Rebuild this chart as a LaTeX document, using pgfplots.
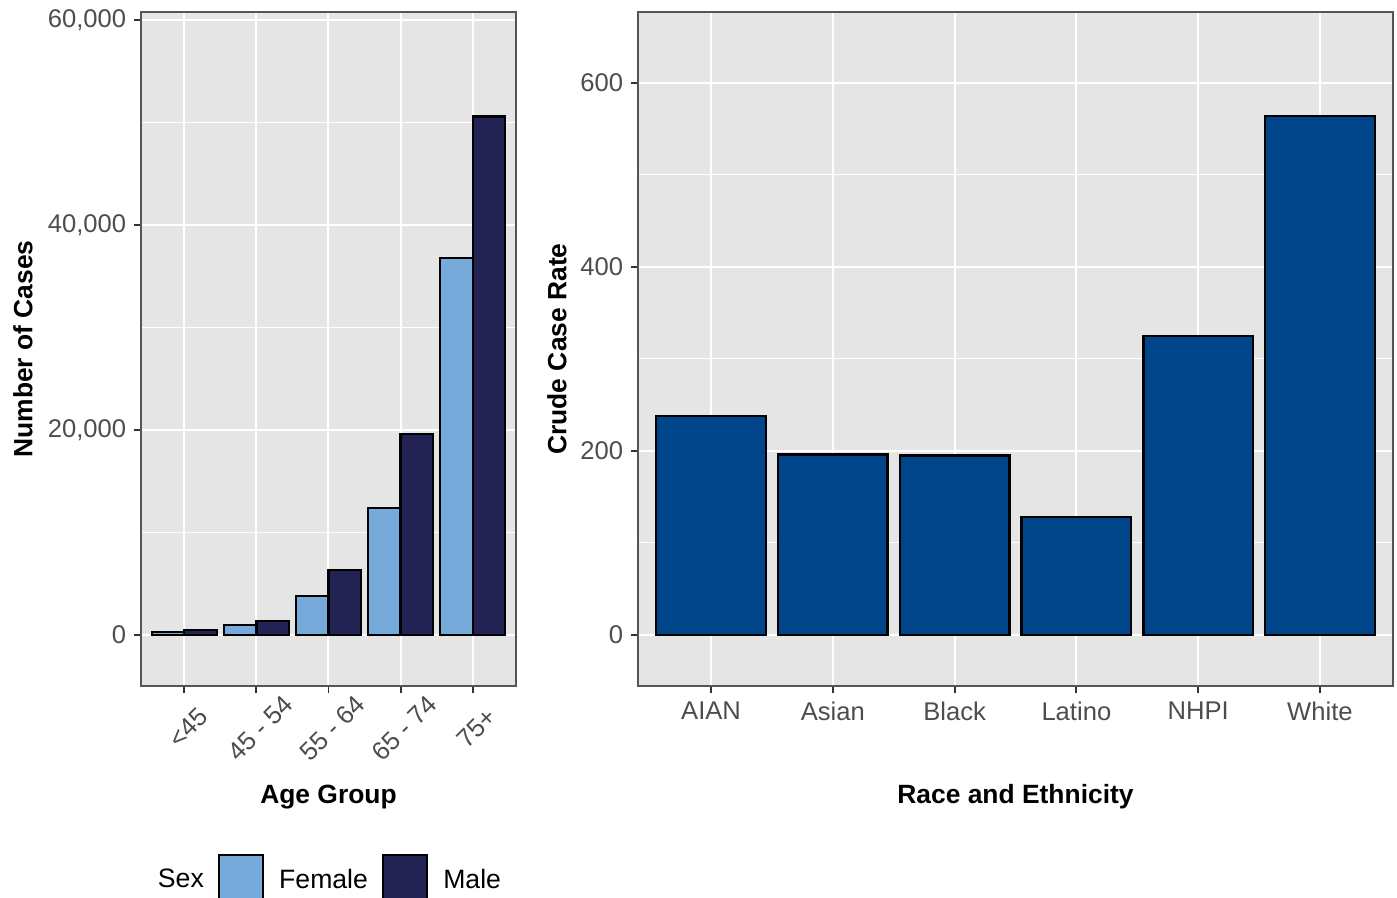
\documentclass[border=0pt]{standalone}
\usepackage{fontspec}
\setmainfont{Liberation Sans}
\usepackage{pgfplots}
\pgfplotsset{compat=1.18}
\definecolor{bg}{HTML}{E5E5E5}
\definecolor{femc}{HTML}{75AADB}
\definecolor{malec}{HTML}{222352}
\definecolor{racec}{HTML}{00448A}
\definecolor{tickc}{HTML}{4D4D4D}
\definecolor{framec}{HTML}{555555}
\pgfplotsset{gg/.style={
  scale only axis,
  axis background/.style={fill=bg},
  axis line style={draw=framec, line width=0.6pt},
  tick align=outside, tick pos=left,
  major tick length=3.7pt, minor tick length=0pt,
  tick style={draw=framec!60!black, line width=0.9pt},
  xmajorgrids, ymajorgrids, yminorgrids,
  major grid style={white, line width=1pt},
  minor grid style={white, line width=0.5pt},
  tick label style={font=\fontsize{12.8}{15}\selectfont, text=tickc, inner sep=0pt},
  label style={font=\bfseries\fontsize{13.2}{16}\selectfont, inner sep=0pt},
  /pgf/number format/assume math mode=true,
  yticklabel style={xshift=-3.5pt},
}}
\begin{document}
\begin{tikzpicture}
\path[use as bounding box] (0,0) rectangle (698.5pt,-449pt);
\begin{axis}[gg, at={(70.5pt,-343pt)}, anchor=south west,
  width=187.5pt, height=337pt,
  xmin=-0.6, xmax=4.6, ymin=-4976, ymax=60780,
  xtick={0,1,2,3,4}, xticklabels={<45, 45 - 54, 55 - 64, 65 - 74, 75+},
  ytick={0,20000,40000,60000}, yticklabels={0,{20,000},{40,000},{60,000}},
  minor ytick={10000,30000,50000},
  xticklabel style={xshift=2pt, yshift=-17.3pt, rotate=45, anchor=center},
  xlabel={Age Group}, ylabel={Number of Cases},
  xlabel style={at={(axis description cs:0.5,-0.1647)}, anchor=center},
  ylabel style={at={(axis description cs:-0.315,0.5)}, anchor=center},
  legend columns=3, legend cell align=left,
  legend style={at={(axis description cs:0.0453,-0.2834)}, anchor=west,
    draw=none, fill=none, inner sep=0pt, outer sep=0pt,
    font=\fontsize{13.3}{15}\selectfont, nodes={inner sep=0pt, yshift=-1.5pt}, column sep=0pt},
]
\addlegendimage{empty legend}
\addplot[ybar, bar width=0.45, bar shift=-0.225, fill=femc, draw=black, line width=1.2pt,
  legend image code/.code={\draw[fill=femc, draw=black, line width=1.2pt] (0pt,-11pt) rectangle (22pt,11pt); \path (-7pt,0pt) (29.5pt,0pt);}]
  coordinates {(0,320) (1,950) (2,3800) (3,12400) (4,36800)};
\addplot[ybar, bar width=0.45, bar shift=0.225, fill=malec, draw=black, line width=1.2pt,
  legend image code/.code={\draw[fill=malec, draw=black, line width=1.2pt] (0pt,-11pt) rectangle (22pt,11pt); \path (-7pt,0pt) (29.5pt,0pt);}]
  coordinates {(0,490) (1,1380) (2,6350) (3,19600) (4,50600)};
\legend{Sex, Female, Male}
\end{axis}
\begin{axis}[gg, at={(319pt,-343pt)}, anchor=south west,
  width=377.5pt, height=337pt,
  xmin=-0.6, xmax=5.6, ymin=-55.4, ymax=677,
  xtick={0,1,2,3,4,5}, xticklabels={AIAN,Asian,Black,Latino,NHPI,White},
  ytick={0,200,400,600}, minor ytick={100,300,500},
  xticklabel style={anchor=north, yshift=-4pt},
  xlabel={Race and Ethnicity}, ylabel={Crude Case Rate},
  xlabel style={at={(axis description cs:0.5,-0.1647)}, anchor=center},
  ylabel style={at={(axis description cs:-0.1073,0.5)}, anchor=center},
]
\addplot[ybar, bar width=0.9, fill=racec, draw=black, line width=1.2pt]
  coordinates {(0,238) (1,196) (2,195) (3,128) (4,325) (5,564)};
\end{axis}
\end{tikzpicture}
\end{document}
